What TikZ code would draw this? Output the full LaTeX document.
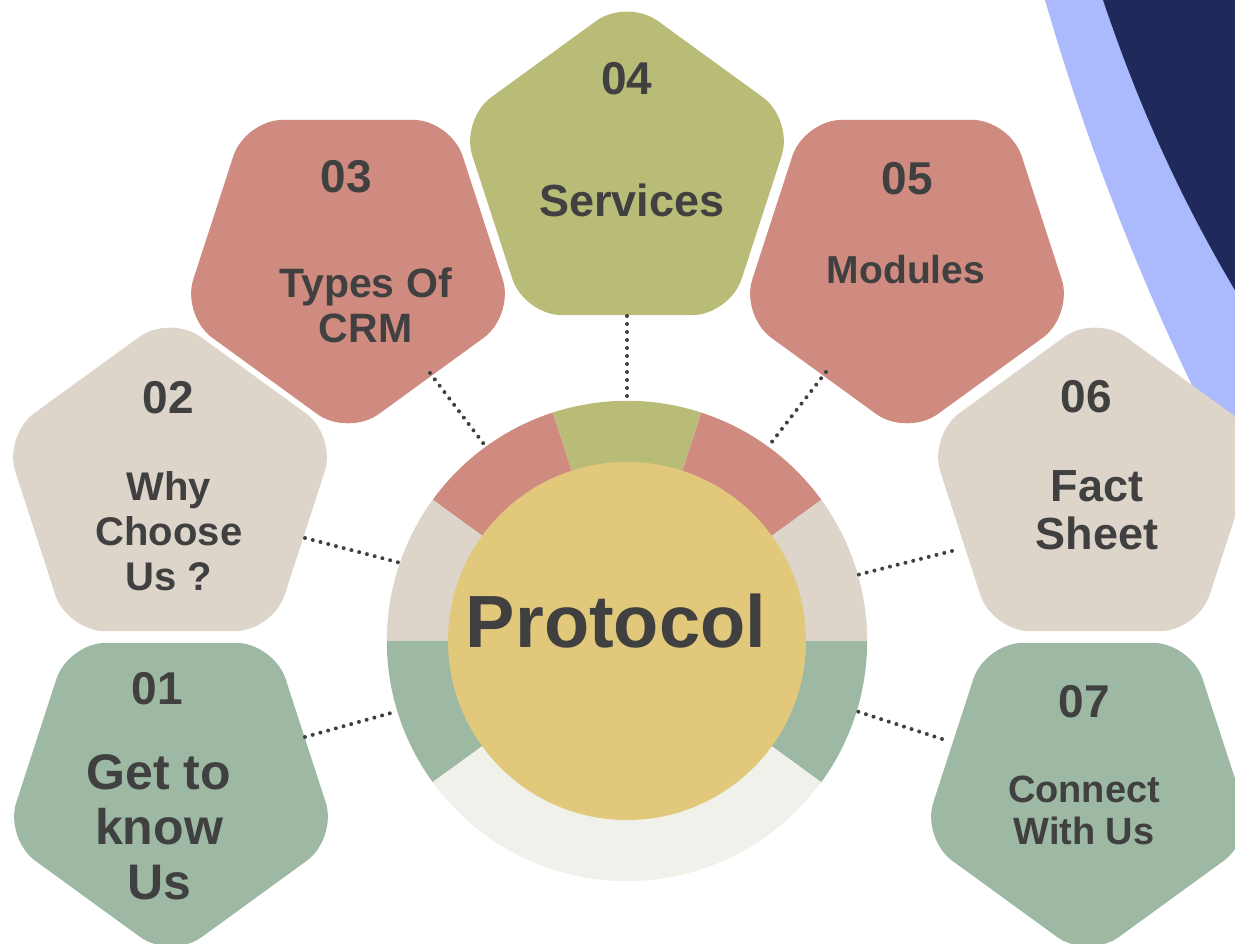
\documentclass[tikz,border=0pt]{standalone}
\usepackage{fontspec}
\setmainfont{Liberation Sans}
\definecolor{cred}{HTML}{CF8B7F}
\definecolor{colive}{HTML}{B9BC77}
\definecolor{cbeige}{HTML}{DDD4CA}
\definecolor{cgreen}{HTML}{9DB9A3}
\definecolor{ccream}{HTML}{F0F1EA}
\definecolor{cyellow}{HTML}{E2C87B}
\definecolor{cnavy}{HTML}{1F2A5A}
\definecolor{cperi}{HTML}{ABB9FD}
\definecolor{ctext}{HTML}{404040}
% regular pentagon, circumradius 175, apothem 141.58
\newcommand\pentshape[4]{%
  \fill[#4, rounded corners=38pt, shift={(#1,#2)}, rotate=#3]
    (126:141.58) -- (162:175) -- (234:175) -- (306:175) -- (18:175) -- (90:175) -- cycle;}
\newcommand\fsz[2]{\bfseries\fontsize{#1}{#2}\selectfont}
\tikzset{
  lbl/.style={text=ctext, inner sep=0pt, align=center},
  dotline/.style={draw=ctext, line width=4pt, line cap=round, dash pattern=on 0pt off 8pt}
}
\begin{document}
\begin{tikzpicture}[x=1pt,y=1pt]
\useasboundingbox (0,0) rectangle (1235,944);
\clip (0,0) rectangle (1235,944);
\fill[white] (0,0) rectangle (1235,944);
% background arcs
\fill[cperi] (1045,944) .. controls (1100,754) and (1170,594) .. (1250,444) -- (1250,960) -- (1045,960) -- cycle;
\fill[cnavy] (1103,944) .. controls (1140,834) and (1185,734) .. (1250,629) -- (1250,960) -- (1103,960) -- cycle;
% pentagons
\pentshape{627}{770.4}{0}{colive}
\pentshape{348}{682.6}{180}{cred}
\pentshape{907}{682.6}{180}{cred}
\pentshape{170}{454.4}{0}{cbeige}
\pentshape{1095}{454.4}{0}{cbeige}
\pentshape{171}{159.6}{180}{cgreen}
\pentshape{1088}{159.6}{180}{cgreen}
% ring
\node[circle, minimum size=480pt, inner sep=0pt] (ring) at (627,303) {};
\fill[colive] (ring.center) -- (ring.72) arc[start angle=72, end angle=108, radius=240] -- cycle;
\fill[cred] (ring.center) -- (ring.36) arc[start angle=36, end angle=72, radius=240] -- cycle;
\fill[cred] (ring.center) -- (ring.108) arc[start angle=108, end angle=144, radius=240] -- cycle;
\fill[cbeige] (ring.center) -- (ring.0) arc[start angle=0, end angle=36, radius=240] -- cycle;
\fill[cbeige] (ring.center) -- (ring.144) arc[start angle=144, end angle=180, radius=240] -- cycle;
\fill[cgreen] (ring.center) -- (ring.-36) arc[start angle=-36, end angle=0, radius=240] -- cycle;
\fill[cgreen] (ring.center) -- (ring.180) arc[start angle=180, end angle=216, radius=240] -- cycle;
\fill[ccream] (ring.center) -- (ring.216) arc[start angle=216, end angle=324, radius=240] -- cycle;
\node[circle, fill=cyellow, minimum size=358pt, inner sep=0pt] (hub) at (627,303) {};
% connectors
\coordinate (c04) at (627,628);
\coordinate (c03) at (430,571);
\coordinate (c05) at (826,572);
\coordinate (c02) at (305,406);
\coordinate (c06) at (952,393);
\coordinate (c01) at (305,207);
\coordinate (c07) at (942,205);
\draw[dotline] (c04) -- (ring.90);
\draw[dotline] (c03) -- (ring.126.3);
\draw[dotline] (c05) -- (ring.54.5);
\draw[dotline] (c02) -- (ring.161);
\draw[dotline] (c06) -- (ring.16.8);
\draw[dotline] (c01) -- (ring.197.5);
\draw[dotline] (c07) -- (ring.-17.2);
% labels
\node[lbl, font=\fsz{74}{80}] (hubtext) at (616,322.5) {Protocol};
\node[lbl, font=\fsz{46}{50}] (n04) at (627,865.5) {04};
\node[lbl, font=\fsz{45}{50}] (t04) at (632,744) {Services};
\node[lbl, font=\fsz{46}{50}] (n03) at (346.5,767) {03};
\node[lbl, font=\fsz{41}{45}] (t03) at (365.5,639) {Types Of\\CRM};
\node[lbl, font=\fsz{46}{50}] (n05) at (907,765.5) {05};
\node[lbl, font=\fsz{39}{45}] (t05) at (906,674) {Modules};
\node[lbl, font=\fsz{46}{50}] (n02) at (168.5,546.5) {02};
\node[lbl, font=\fsz{40}{45}] (t02) at (169,413) {Why\\Choose\\Us ?};
\node[lbl, font=\fsz{46}{50}] (n06) at (1086.5,547.3) {06};
\node[lbl, font=\fsz{45}{48.3}] (t06) at (1097,434) {Fact\\Sheet};
\node[lbl, font=\fsz{46}{50}] (n01) at (157.5,255) {01};
\node[lbl, font=\fsz{50}{55}] (t01) at (159,116.5) {Get to\\know\\Us};
\node[lbl, font=\fsz{46}{50}] (n07) at (1084,242) {07};
\node[lbl, font=\fsz{38}{41.7}] (t07) at (1084,133.7) {Connect\\With Us};
\end{tikzpicture}
\end{document}
